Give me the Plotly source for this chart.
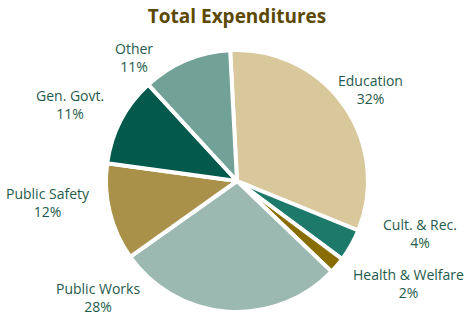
import plotly.graph_objects as go

categories = ["Education", "Cult. & Rec.", "Health & Welfare", "Public Works",
              "Public Safety", "Gen. Govt.", "Other"]
values = [32, 4, 2, 28, 12, 11, 11]
colors = ["#D9C89C", "#1D7A6B", "#876D02", "#9BB9B1", "#A99149", "#03594B", "#72A297"]

# label centre positions in pixels (layout only)
label_px = [(370, 89), (420, 233), (408, 283), (98, 297), (48, 202), (70, 105), (134, 57)]

W, H = 466, 317
cx, cy, r = 237, 181, 131

fig = go.Figure(go.Pie(
    labels=categories,
    values=values,
    sort=False,
    direction="clockwise",
    rotation=-3,
    marker=dict(colors=colors, line=dict(color="white", width=4)),
    textinfo="none",
    showlegend=False,
    hoverinfo="skip",
    domain=dict(x=[(cx - r) / W, (cx + r) / W], y=[(H - cy - r) / H, (H - cy + r) / H]),
))

for lab, val, (px, py) in zip(categories, values, label_px):
    fig.add_annotation(
        x=px / W, y=1 - py / H, xref="paper", yref="paper",
        xanchor="center", yanchor="middle", showarrow=False,
        text=f"{lab}<br>{val}%", align="center",
        font=dict(family="Open Sans", size=14, color="#1F5A4C"),
    )

fig.update_layout(
    width=W, height=H,
    margin=dict(l=0, r=0, t=0, b=0),
    paper_bgcolor="white",
    title=dict(text="<b>Total Expenditures</b>", x=cx / W, xanchor="center",
               y=1 - 16 / H, yanchor="middle",
               font=dict(family="Open Sans", size=19, color="#5C4900")),
)

fig.write_html("out.html", config={"displayModeBar": False},
               post_script="document.body.style.margin='0';document.body.style.overflow='hidden';")
